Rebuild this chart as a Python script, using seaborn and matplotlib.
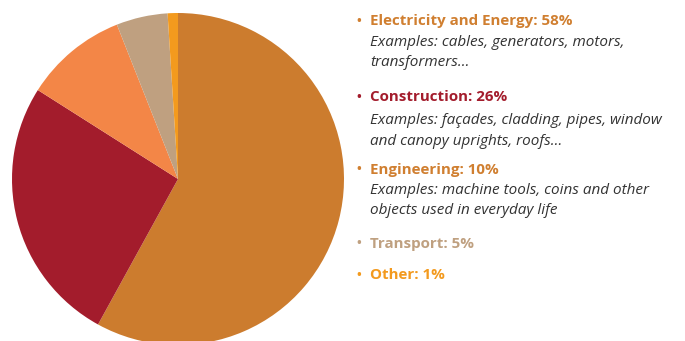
import matplotlib
matplotlib.use("Agg")
import matplotlib.pyplot as plt
import seaborn as sns

categories = ["Electricity and Energy", "Construction", "Engineering", "Transport", "Other"]
values = [58, 26, 10, 5, 1]
colors = ["#CC7C2E", "#A31C2C", "#F38647", "#BFA080", "#F39A1E"]
label_colors = ["#D07F30", "#A31C2C", "#D07F30", "#BFA080", "#F39A1E"]
examples = [
    ["Examples: cables, generators, motors,", "transformers\u2026"],
    ["Examples: fa\u00e7ades, cladding, pipes, window", "and canopy uprights, roofs\u2026"],
    ["Examples: machine tools, coins and other", "objects used in everyday life"],
    [],
    [],
]

sns.set_theme(style="white")
plt.rcParams["font.family"] = ["Open Sans", "DejaVu Sans"]

W, H = 685, 341
fig = plt.figure(figsize=(W / 100, H / 100), dpi=100)
cx, cy, r = 178, 179, 166
ax = fig.add_axes([(cx - r) / W, (H - cy - r) / H, 2 * r / W, 2 * r / H])
ax.pie(values, colors=colors, startangle=90, counterclock=False,
       wedgeprops=dict(linewidth=0, antialiased=True))
ax.set_xlim(-1, 1)
ax.set_ylim(-1, 1)
ax.set_aspect("equal")
ax.axis("off")

def fy(y):
    return 1 - y / H

head_y = [21, 97, 170, 244, 275]
sub_y = [[43, 63], [120, 141], [191, 211], [], []]
for cat, val, col, hy, ex, sy in zip(categories, values, label_colors, head_y, examples, sub_y):
    fig.text(356 / W, fy(hy), "\u2022", color=col, fontsize=9, fontweight="bold",
             va="center", ha="left")
    fig.text(370 / W, fy(hy), f"{cat}: {val}%", color=col, fontsize=10.9,
             fontweight="bold", va="center", ha="left")
    for line, yy in zip(ex, sy):
        fig.text(370 / W, fy(yy), line, color="#333333", fontsize=11,
                 fontstyle="italic", va="center", ha="left")

fig.savefig("out.png", dpi=100)
